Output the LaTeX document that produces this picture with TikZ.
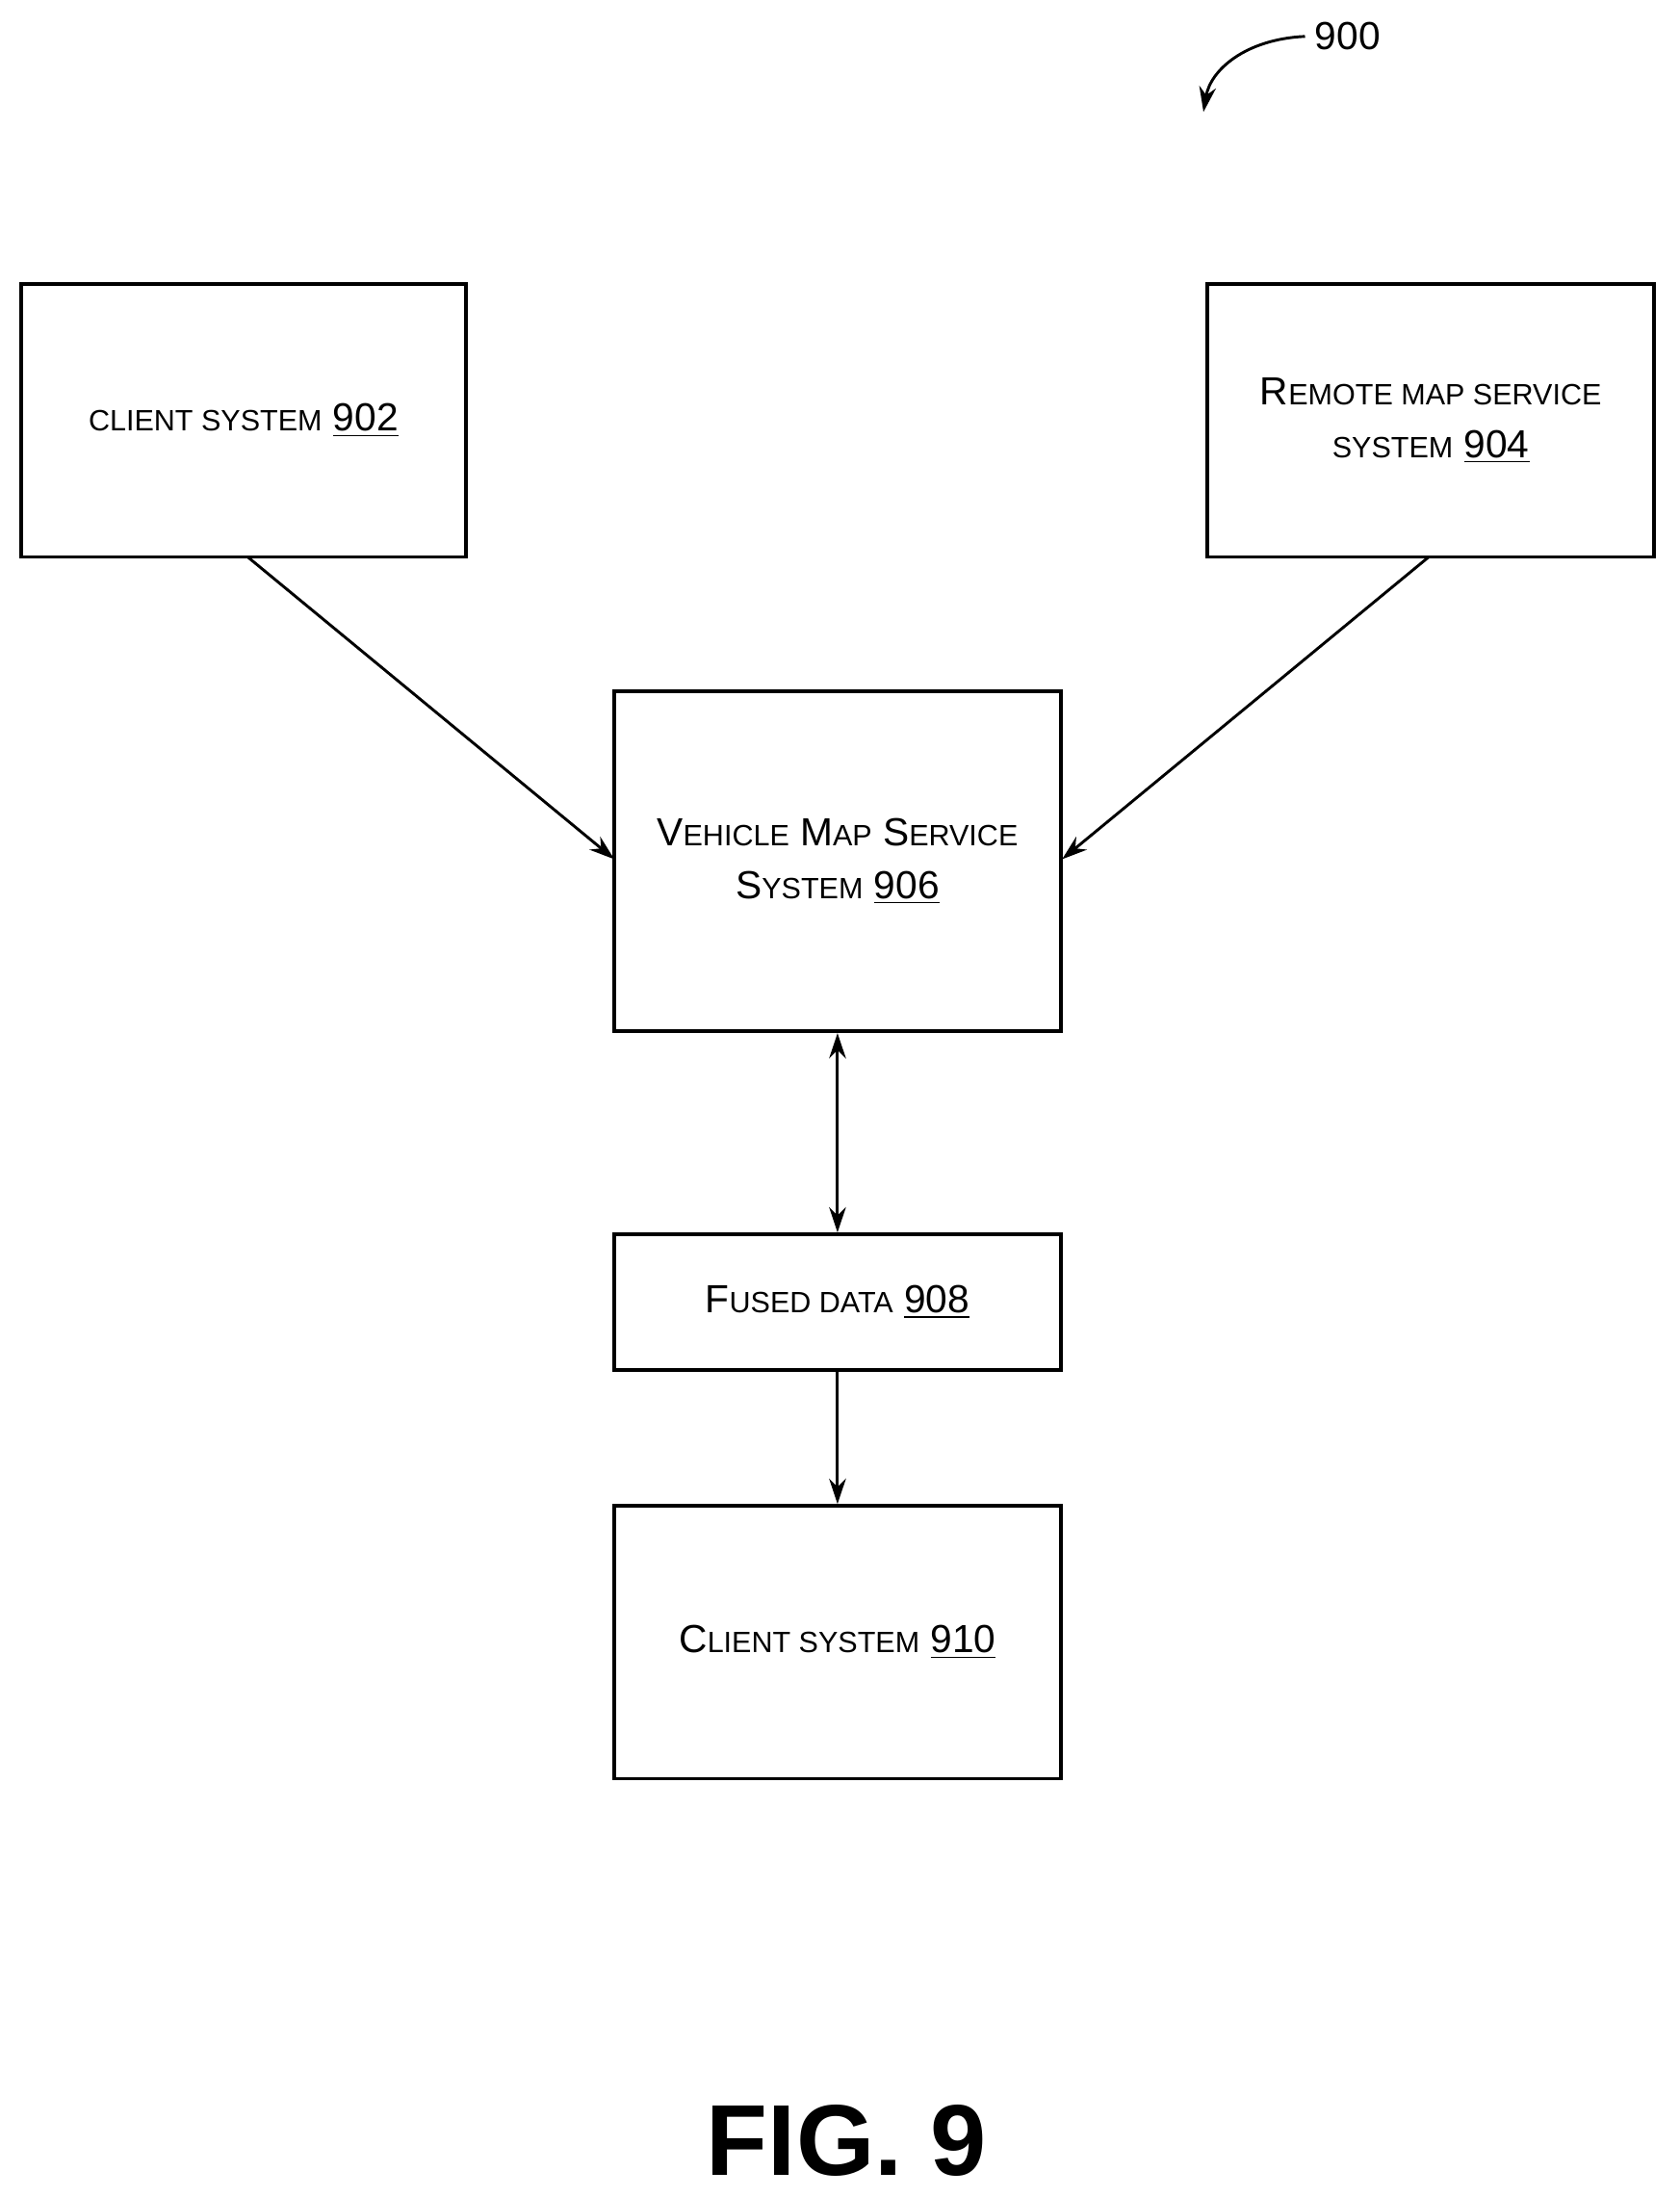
\documentclass[tikz,border=0pt]{standalone}
\usepackage{fontspec}
\usetikzlibrary{arrows.meta}
\setmainfont{Liberation Sans}
\newcommand{\sm}[1]{{\fontsize{10.5}{12}\selectfont #1}}
\newcommand{\num}[1]{\underline{#1}}
\begin{document}
\begin{tikzpicture}[x=0.5pt,y=-0.5pt,
  box/.style={draw,line width=1.3pt,inner sep=0pt,align=center,font=\fontsize{14}{19}\selectfont},
  arr/.style={line width=1pt,-{Stealth[length=9pt,width=6pt]}}]
\useasboundingbox (0,0) rectangle (1200,1570);
\node[box,minimum width=159pt,minimum height=97.5pt] (a) at (174,300.5) {\sm{CLIENT SYSTEM} \num{902}};
\node[box,minimum width=159.5pt,minimum height=97.5pt] (b) at (1022.5,300.5) {R\sm{EMOTE MAP SERVICE}\\ \sm{SYSTEM} \num{904}};
\node[box,minimum width=159.5pt,minimum height=121.5pt] (c) at (598.5,615.5) {V\sm{EHICLE} M\sm{AP} S\sm{ERVICE}\\ S\sm{YSTEM} \num{906}};
\node[box,minimum width=159.5pt,minimum height=48.5pt] (d) at (598.5,930.5) {F\sm{USED DATA} \num{908}};
\node[box,minimum width=159.5pt,minimum height=97.5pt] (e) at (598.5,1173.5) {C\sm{LIENT SYSTEM} \num{910}};
\coordinate (a1) at (177,398); \coordinate (c1) at (439,614);
\coordinate (b1) at (1021,398); \coordinate (c2) at (759,614);
\draw[arr] (a1) -- (c1);
\draw[arr] (b1) -- (c2);
\draw[arr,{Stealth[length=9pt,width=6pt]}-{Stealth[length=9pt,width=6pt]}] (c.south) -- (d.north);
\draw[arr] (d.south) -- (e.north);
\node[font=\fontsize{14}{16}\selectfont] (n) at (963,26) {900};
\coordinate (n1) at (860,80);
\draw[arr] (n.west) .. controls (890,28) and (865,50) .. (n1);
\node[font=\fontsize{36}{40}\selectfont\bfseries] (f) at (605,1530) {FIG. 9};
\end{tikzpicture}
\end{document}
